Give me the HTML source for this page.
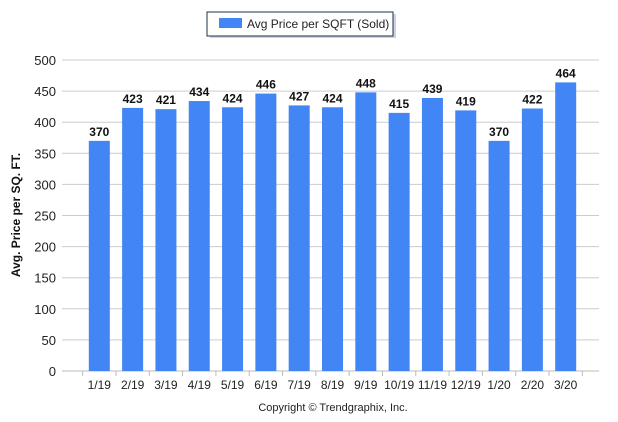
<!DOCTYPE html>
<html><head><meta charset="utf-8"><style>
body{margin:0;background:#fff;font-family:"Liberation Sans",sans-serif;}
svg{display:block}
</style></head><body>
<svg width="618" height="422" xmlns="http://www.w3.org/2000/svg">
<g>
<rect x="210" y="14" width="186" height="24" fill="#cfd4dc"/>
<rect x="207" y="12" width="186" height="24" fill="#fff" stroke="#1f2f4f" stroke-width="1"/>
<rect x="219" y="18" width="23" height="10" fill="#4285f4"/>
<text x="247" y="28" font-size="12" fill="#222">Avg Price per SQFT (Sold)</text>
</g>
<g id="grid"></g>
<g id="bars"></g>
<text transform="translate(20,215) rotate(-90)" text-anchor="middle" font-size="12" font-weight="bold" fill="#111">Avg. Price per SQ. FT.</text>
<text x="333" y="411" text-anchor="middle" font-size="11" fill="#222">Copyright © Trendgraphix, Inc.</text>
</svg>
<script>
const categories=["1/19","2/19","3/19","4/19","5/19","6/19","7/19","8/19","9/19","10/19","11/19","12/19","1/20","2/20","3/20"];
const values=[370,423,421,434,424,446,427,424,448,415,439,419,370,422,464];
const yTicks=[0,50,100,150,200,250,300,350,400,450,500];
const NS="http://www.w3.org/2000/svg";
const x0=66,x1=599,y0=371,y1=60,yMax=500;
const step=(x1-x0)/(categories.length+1);
const ys=v=>y0-(v/yMax)*(y0-y1);
const xs=i=>x0+step*(i+1);
function mk(t,a,p){const e=document.createElementNS(NS,t);for(const k in a)e.setAttribute(k,a[k]);p.appendChild(e);return e;}
const grid=document.getElementById('grid'),bars=document.getElementById('bars');
yTicks.forEach(v=>{
 const l=mk('line',{x1:62,x2:x1,y1:ys(v),y2:ys(v),stroke:v===0?'#bbb':'#ccc','stroke-width':1},grid);
 
 
 const t=mk('text',{x:56,y:ys(v)+5,'text-anchor':'end','font-size':13,fill:'#222'},grid);
 t.textContent=v;
 
 
});
for(let i=0;i<=categories.length;i++){
 const tx=x0+step*(i+0.5);
 const tk=mk('line',{x1:tx,x2:tx,y1:y0,y2:y0+5,stroke:'#bbb'},grid);
 
 
}
categories.forEach((c,i)=>{
 const v=values[i],cx=xs(i),bw=21;
 const r=mk('rect',{x:cx-bw/2,y:ys(v),width:bw,height:y0-ys(v),fill:'#4285f4'},bars);
 
 
 const t=mk('text',{x:cx,y:ys(v)-5,'text-anchor':'middle','font-size':12,'font-weight':'bold',fill:'#111'},bars);
 t.textContent=v;
 
 
 const xl=mk('text',{x:cx,y:389,'text-anchor':'middle','font-size':12,fill:'#222'},bars);
 xl.textContent=c;
 
 
});
</script>
</body></html>
